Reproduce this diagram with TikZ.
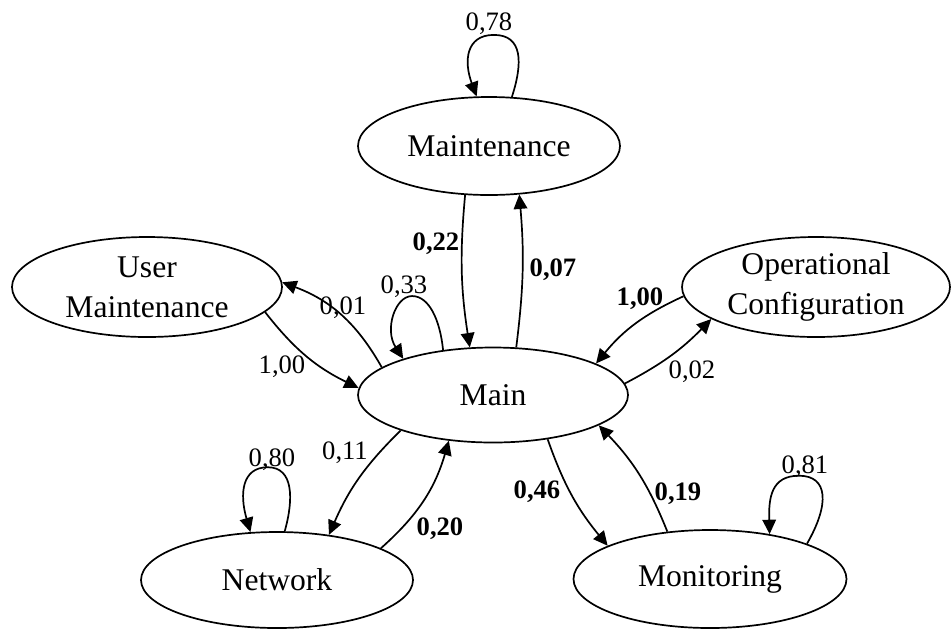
\documentclass[tikz,border=0pt]{standalone}
\usepackage{fontspec}
\setmainfont{Liberation Serif}
\usetikzlibrary{shapes.geometric,arrows.meta}
\begin{document}
\begin{tikzpicture}[x=0.5pt,y=-0.5pt,
  state/.style={draw, ellipse, line width=0.85pt, inner sep=0pt},
  statetext/.style={align=center, inner sep=0pt, font=\fontsize{15.8}{19.8}\selectfont},
  edge/.style={draw, line width=0.85pt, -{Triangle[length=7.2pt,width=6.8pt]}},
  prob/.style={anchor=base, inner sep=0pt, font=\fontsize{13.3}{15}\selectfont},
  probb/.style={anchor=base, inner sep=0pt, font=\fontsize{13.3}{15}\selectfont\bfseries}]
\useasboundingbox (0,0) rectangle (951,628);

% states
\node[state, minimum width=131pt, minimum height=49pt,
      label={[statetext]center:Maintenance}] (mt) at (489,146) {};
\node[state, minimum width=135pt, minimum height=47.5pt,
      label={[statetext]center:Main}] (main) at (493,395) {};
\node[state, minimum width=135pt, minimum height=50pt,
      label={[statetext]center:{User\\Maintenance}}] (um) at (147,287) {};
\node[state, minimum width=134pt, minimum height=50pt,
      label={[statetext]center:{Operational\\Configuration}}] (oc) at (816,287) {};
\node[state, minimum width=136pt, minimum height=48pt,
      label={[statetext]center:Network}] (nw) at (277,580) {};
\node[state, minimum width=136.5pt, minimum height=49pt,
      label={[statetext]center:Monitoring}] (mon) at (710,579) {};

% transitions between states
\draw[edge] (mt.-116) to[bend right=7] (main.116);
\draw[edge] (main.64) to[bend right=6] (mt.-58);
\draw[edge] (main.166) to[bend right=20] (um.2);
\draw[edge] (um.-12) to[bend right=13] (main.177);
\draw[edge] (oc.-176) to[bend right=13] (main.17);
\draw[edge] (main.5) to[bend right=9] (oc.-163);
\draw[edge] (main.-159) to[bend right=11] (nw.41);
\draw[edge] (nw.17) to[bend right=16] (main.-134);
\draw[edge] (main.-39) to[bend right=10] (mon.162);
\draw[edge] (mon.132) to[bend right=11] (main.-16);

% self loops
\draw[edge] (mt.65) .. controls +(11,-34) and +(29,0) .. ++(-18,-62)
  .. controls +(-28,0) and +(-13,-35) .. (mt.104);
\draw[edge] (main.138) .. controls +(-3,-30) and +(17,0) .. ++(-31,-54)
  .. controls +(-17,0) and +(-19,-29) .. (main.158);
\draw[edge] (nw.81) .. controls +(9,-32) and +(26,0) .. ++(-17,-64)
  .. controls +(-26,0) and +(-11,-38) .. (nw.119);
\draw[edge] (mon.20) .. controls +(23,-40) and +(29,0) .. ++(-8,-68)
  .. controls +(-28,0) and +(-1,-36) .. (mon.37);

% transition probabilities
\node[prob]  (l78) at (489,30)  {0,78};
\node[probb] (l22) at (436,250) {0,22};
\node[probb] (l07) at (553,276) {0,07};
\node[prob]  (l33) at (404,293) {0,33};
\node[prob]  (l01) at (343,314) {0,01};
\node[prob]  (l100a) at (282,373) {1,00};
\node[probb] (l100b) at (640,305) {1,00};
\node[prob]  (l02) at (692,378) {0,02};
\node[prob]  (l80) at (272,466) {0,80};
\node[prob]  (l11) at (345,459) {0,11};
\node[probb] (l20) at (440,535) {0,20};
\node[probb] (l46) at (537,498) {0,46};
\node[probb] (l19) at (678,500) {0,19};
\node[prob]  (l81) at (805,473) {0,81};
\end{tikzpicture}
\end{document}
